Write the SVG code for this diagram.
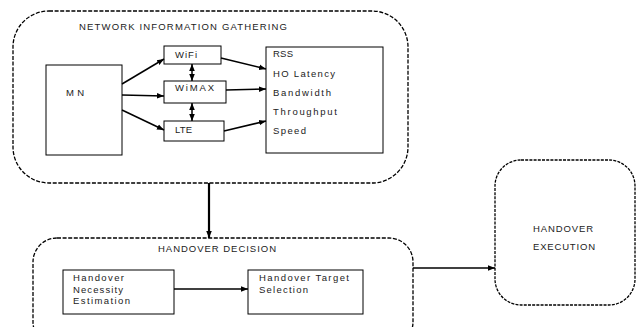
<svg xmlns="http://www.w3.org/2000/svg" width="638" height="327" viewBox="0 0 638 327">
<defs>
<marker id="ah" viewBox="0 0 10 10" refX="10" refY="5" markerWidth="7" markerHeight="7" markerUnits="userSpaceOnUse" orient="auto-start-reverse">
<path d="M0,1 L10,5 L0,9 Z" fill="#000"/>
</marker>
</defs>
<style>
.box{fill:#fff;stroke:#000;stroke-width:1}
.grp{fill:none;stroke:#000;stroke-width:1.3;stroke-dasharray:4 1.6}
.exe{fill:none;stroke:#000;stroke-width:1.3;stroke-dasharray:3 1.2}
.t{font-family:"Liberation Sans",Arial,sans-serif;font-size:9.5px;fill:#222}
.c{fill:none;stroke:#000;stroke-width:1.5}
</style>
<rect width="638" height="327" fill="#fff"/>

<g id="gathering">
<rect class="grp" x="13" y="11" width="395" height="172" rx="36"/>
<text class="t" x="79" y="30" textLength="208" lengthAdjust="spacing">NETWORK INFORMATION GATHERING</text>
</g>
<g id="mn">
<rect class="box" x="46" y="65" width="76" height="90"/>
<text class="t" x="66" y="96" textLength="18" lengthAdjust="spacing">MN</text>
</g>
<g id="wifi">
<rect class="box" x="164" y="46" width="57" height="18"/>
<text class="t" x="175" y="58" textLength="22" lengthAdjust="spacing">WiFi</text>
</g>
<g id="wimax">
<rect class="box" x="164" y="81" width="62" height="22"/>
<text class="t" x="175" y="91" textLength="39" lengthAdjust="spacing">WiMAX</text>
</g>
<g id="lte">
<rect class="box" x="164" y="121" width="60" height="20"/>
<text class="t" x="175" y="133" textLength="17" lengthAdjust="spacing">LTE</text>
</g>
<g id="params">
<rect class="box" x="266" y="47" width="117" height="106"/>
<text class="t" x="273" y="57" textLength="20" lengthAdjust="spacing">RSS</text>
<text class="t" x="273" y="77" textLength="62" lengthAdjust="spacing">HO Latency</text>
<text class="t" x="273" y="96" textLength="58" lengthAdjust="spacing">Bandwidth</text>
<text class="t" x="273" y="115" textLength="64" lengthAdjust="spacing">Throughput</text>
<text class="t" x="273" y="134" textLength="33" lengthAdjust="spacing">Speed</text>
</g>

<g id="decision">
<rect class="grp" x="33" y="238" width="380" height="108" rx="24"/>
<text class="t" x="158" y="252" textLength="118" lengthAdjust="spacing">HANDOVER DECISION</text>
</g>
<g id="necessity">
<rect class="box" x="63" y="270" width="111" height="44"/>
<text class="t" x="73" y="281" textLength="51" lengthAdjust="spacing">Handover</text>
<text class="t" x="73" y="293" textLength="50" lengthAdjust="spacing">Necessity</text>
<text class="t" x="73" y="304" textLength="57" lengthAdjust="spacing">Estimation</text>
</g>
<g id="target">
<rect class="box" x="248" y="270" width="115" height="44"/>
<text class="t" x="259" y="281" textLength="90" lengthAdjust="spacing">Handover Target</text>
<text class="t" x="259" y="293" textLength="49" lengthAdjust="spacing">Selection</text>
</g>

<g id="execution">
<rect class="exe" x="495" y="160" width="140" height="145" rx="26"/>
<text class="t" x="533" y="232" textLength="60" lengthAdjust="spacing">HANDOVER</text>
<text class="t" x="533" y="250" textLength="62" lengthAdjust="spacing">EXECUTION</text>
</g>

<g id="connectors">
<line class="c" x1="122" y1="84" x2="164" y2="59" marker-end="url(#ah)"/>
<line class="c" x1="122" y1="95" x2="164" y2="96" marker-end="url(#ah)"/>
<line class="c" x1="122" y1="110" x2="164" y2="130" marker-end="url(#ah)"/>
<line class="c" x1="192" y1="64" x2="192" y2="81" marker-start="url(#ah)" marker-end="url(#ah)"/>
<line class="c" x1="192" y1="103" x2="192" y2="121" marker-start="url(#ah)" marker-end="url(#ah)"/>
<line class="c" x1="221" y1="58" x2="266" y2="69" marker-end="url(#ah)"/>
<line class="c" x1="226" y1="90" x2="266" y2="89" marker-end="url(#ah)"/>
<line class="c" x1="224" y1="131" x2="266" y2="121" marker-end="url(#ah)"/>
<line x1="209" y1="183" x2="209" y2="238" stroke="#000" stroke-width="2.2" marker-end="url(#ah)"/>
<line class="c" x1="174" y1="289" x2="248" y2="289" marker-end="url(#ah)"/>
<line class="c" x1="413" y1="268" x2="495" y2="268" marker-end="url(#ah)"/>
</g>
</svg>
